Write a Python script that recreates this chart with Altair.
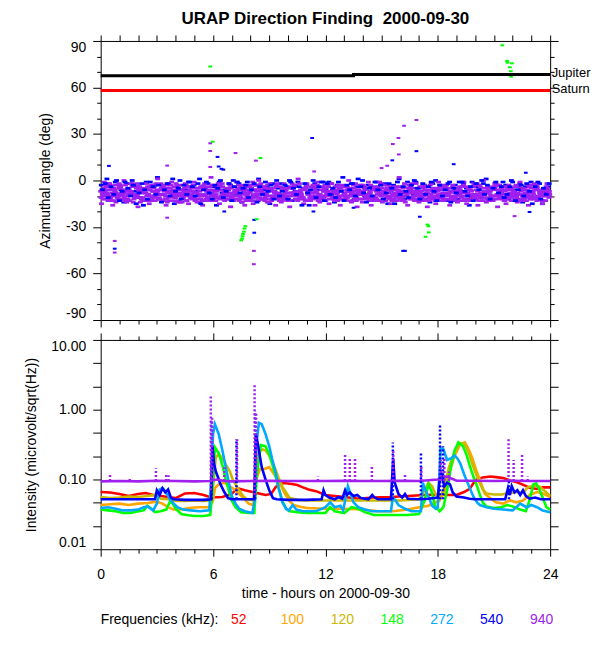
import altair as alt
import numpy as np
import pandas as pd

TITLE = "URAP Direction Finding\u00a0 2000-09-30"
XTITLE = "time - hours on 2000-09-30"
Y1TITLE = "Azimuthal angle (deg)"
Y2TITLE = "Intensity (microvolt/sqrt(Hz))"
LEGEND_TITLE = "Frequencies (kHz):"
FONT = "Liberation Sans"

FREQS = ["52", "100", "120", "148", "272", "540", "940"]
COLORS = ["#FF0000", "#FFA500", "#CDB800", "#00FF00", "#00A8FF", "#0000FF", "#A020F0"]

# ---------------- top panel: planets ----------------
JUP_T = [0, 13.5, 13.5, 24]
JUP_A = [67.5, 67.5, 68.3, 68.3]
SAT_T = [0, 24]
SAT_A = [58.0, 58.0]

# ---------------- top panel: direction-finding band (deg), sampled every BAND_STEP h ----------------
BAND_STEP = 0.15
P_OFFSETS = [0.0, 0.021, 0.043, 0.064, 0.086, 0.107, 0.129]
B_OFFSETS = [0.032, 0.097]
P940_ROWS = [
"""-7 -10 -4 -12 -8 -6 -11 -3 -9 -13 -5 -8 -10 -2 -7 -11
-6 -9 -13 -4 -8 -12 -5 -10 -7 -3 -11 -9 -6 -14 -8 -4
-10 -7 -12 -5 -9 -2 -11 -8 -6 -13 -4 -10 -7 -9 -3 -12
-8 -5 -11 -7 -10 -4 -13 -6 -9 -2 -8 -12 -5 -10 -7 -11
-4 -9 -6 -13 -8 -3 -10 -7 -12 -5 -9 -11 -6 -8 -14 -4
-10 -7 -2 -11 -9 -5 -12 -8 -6 -10 -3 -13 -7 -9 -4 -11
-8 -6 -12 -5 -10 -7 -3 -11 -9 -13 -6 -8 -4 -10 -12 -7
-5 -9 -11 -3 -8 -13 -6 -10 -7 -4 -12 -9 -5 -11 -8 -14
-6 -10 -4 -12 -7 -9 -2 -11 -8 -5 -13 -10 -6 -9 -3 -12
-7 -11 -5 -8 -10 -4 -13 -6 -9 -12 -7 -3 -11 -8 -10 -5""",
"""-11 -5 -9 -2 -13 -7 -10 -4 -8 -12 -6 -3 -11 -9 -14 -6
-8 -12 -3 -10 -6 -9 -13 -5 -11 -7 -4 -10 -8 -12 -2 -9
-5 -11 -8 -14 -4 -10 -7 -12 -3 -9 -6 -11 -13 -5 -8 -10
-12 -3 -9 -6 -11 -8 -1 -10 -13 -7 -4 -9 -6 -11 -8 -12
-9 -12 -5 -10 -2 -8 -13 -6 -11 -4 -7 -10 -12 -3 -9 -6
-13 -4 -8 -11 -6 -10 -3 -12 -7 -9 -5 -11 -8 -14 -6 -10
-3 -10 -7 -13 -5 -9 -11 -4 -12 -6 -8 -10 -2 -9 -7 -11
-12 -7 -4 -10 -8 -11 -5 -13 -9 -6 -10 -3 -8 -12 -6 -9
-10 -3 -12 -6 -9 -11 -7 -4 -13 -8 -5 -10 -12 -6 -8 -11
-4 -9 -13 -7 -11 -6 -10 -8 -3 -12 -9 -5 -7 -13 -10 -6""",
"""-15 -1 -8 -6 -16 -3 -12 -9 0 -14 -7 -2 -10 -17 -5 -13
-2 -15 -7 -11 1 -9 -4 -16 -8 -1 -13 -6 -14 -3 -10 -15
-9 -1 -14 -7 -16 -4 -11 2 -13 -6 -15 -2 -10 -8 -17 -4
-1 -13 -6 -16 -9 -3 -15 -7 0 -12 -5 -14 -2 -11 -16 -8
-14 -2 -10 -17 -5 -12 1 -8 -15 -3 -13 -6 -16 -1 -11 -7
-5 -15 -2 -13 -8 -16 -4 -10 0 -14 -7 -17 -3 -12 -9 -1
-16 -6 -12 -1 -14 -9 -3 -15 -5 -11 2 -13 -8 -16 -4 -10
-2 -14 -7 -12 -17 -3 -10 -15 -1 -9 -13 -6 -16 -4 -11 -8
-13 -1 -15 -6 -10 -3 -16 -8 0 -14 -5 -12 -2 -17 -9 -4
-15 -3 -11 -7 -14 -1 -12 -9 -16 -5 -2 -13 -8 -15 -6 -10""",
"""-6 -12 -9 -3 -10 -14 -5 -8 -11 -7 -13 -4 -9 -6 -12 -8
-10 -4 -11 -13 -7 -2 -9 -12 -5 -10 -8 -14 -6 -11 -3 -7
-12 -8 -5 -10 -13 -9 -6 -3 -11 -7 -12 -4 -8 -10 -5 -13
-7 -10 -14 -4 -6 -12 -9 -11 -5 -8 -13 -3 -10 -7 -4 -9
-11 -6 -8 -13 -10 -4 -7 -9 -12 -2 -11 -8 -5 -13 -10 -7
-9 -12 -6 -4 -13 -7 -10 -11 -5 -8 -12 -6 -9 -3 -11 -13
-10 -5 -9 -8 -12 -13 -6 -7 -10 -4 -9 -11 -14 -7 -5 -12
-8 -11 -13 -6 -4 -9 -12 -7 -10 -11 -5 -8 -13 -3 -10 -7
-11 -7 -8 -13 -4 -12 -10 -5 -9 -7 -11 -13 -4 -12 -7 -9
-12 -6 -10 -4 -8 -13 -5 -11 -7 -10 -12 -4 -9 -6 -13 -8""",
"""-9 -7 -13 -11 -5 -8 -2 -12 -6 -10 -9 -14 -4 -11 -8 -5
-13 -6 -10 -8 -12 -5 -7 -3 -13 -9 -11 -5 -10 -7 -13 -4
-7 -13 -10 -4 -6 -12 -8 -10 -7 -11 -3 -9 -12 -6 -11 -8
-10 -6 -4 -12 -8 -11 -6 -13 -3 -9 -11 -7 -12 -5 -9 -13
-6 -11 -13 -4 -9 -7 -12 -10 -5 -8 -12 -3 -10 -9 -6 -11
-8 -10 -11 -7 -3 -12 -9 -6 -13 -5 -10 -8 -12 -7 -5 -9
-11 -13 -4 -9 -7 -6 -10 -12 -8 -13 -4 -7 -10 -5 -12 -8
-9 -4 -10 -13 -6 -12 -8 -5 -11 -3 -9 -12 -7 -10 -13 -5
-7 -12 -9 -4 -11 -6 -13 -10 -7 -12 -9 -4 -10 -8 -5 -13
-10 -8 -6 -12 -9 -5 -11 -13 -4 -8 -6 -10 -12 -9 -4 -11""",
"""-8 -3 -11 -6 -13 -9 -4 -10 -7 -12 -2 -9 -5 -11 -8 -13
-4 -10 -7 -2 -12 -6 -9 -14 -5 -8 -11 -3 -10 -7 -13 -6
-11 -5 -9 -12 -3 -7 -13 -8 -10 -4 -6 -12 -9 -2 -11 -7
-6 -12 -3 -9 -13 -5 -10 -7 -11 -4 -8 -14 -6 -10 -3 -9
-13 -7 -10 -5 -8 -12 -2 -11 -6 -9 -13 -4 -7 -12 -10 -5
-3 -9 -12 -8 -11 -6 -13 -4 -10 -7 -2 -12 -9 -5 -11 -8
-12 -4 -7 -10 -3 -11 -8 -13 -6 -9 -12 -5 -10 -3 -8 -13
-7 -10 -5 -12 -9 -2 -11 -6 -13 -8 -4 -10 -7 -12 -5 -9
-4 -13 -8 -6 -10 -12 -3 -9 -11 -5 -7 -13 -2 -10 -8 -6
-11 -5 -9 -13 -4 -7 -12 -8 -10 -3 -11 -6 -9 -13 -5 -7""",
"""-12 -6 -2 -10 -8 -11 -5 -13 -3 -9 -7 -12 -10 -4 -13 -8
-9 -13 -5 -8 -11 -3 -12 -7 -10 -6 -2 -13 -9 -5 -8 -11
-3 -8 -12 -10 -6 -13 -4 -9 -11 -2 -10 -7 -5 -12 -9 -6
-10 -4 -8 -13 -7 -11 -3 -9 -6 -12 -10 -5 -13 -8 -2 -11
-5 -10 -12 -8 -3 -9 -11 -6 -13 -7 -4 -10 -8 -11 -12 -3
-9 -2 -7 -12 -10 -4 -8 -11 -5 -13 -9 -6 -3 -10 -12 -7
-6 -11 -13 -2 -9 -5 -12 -10 -4 -7 -11 -13 -8 -6 -2 -10
-13 -8 -9 -4 -11 -7 -5 -12 -3 -10 -6 -9 -11 -13 -7 -4
-8 -12 -5 -11 -2 -9 -6 -13 -7 -4 -12 -10 -3 -11 -6 -13
-5 -10 -7 -3 -12 -9 -13 -6 -11 -8 -4 -12 -10 -7 -2 -9""",
]
B540_ROWS = [
"""-3 -8 1 -12 -5 -1 -10 -6 -14 -2 -9 0 -7 -4 -11 -16
-1 -6 -13 -3 2 -9 -5 -12 -2 -8 -15 -4 0 -10 -6 -1
-11 -3 -7 1 -13 -5 -2 -9 -4 -16 -1 -8 -6 -12 -3 0
-9 -2 -14 -5 -1 -7 -10 -3 1 -12 -6 -4 -15 -2 -8 -5
-2 -10 -4 0 -13 -7 -1 -11 -5 -3 -16 -8 -2 -6 -12 -1
-6 -1 -9 -14 -3 -5 2 -10 -7 -2 -12 -4 -8 0 -11 -3
-4 -13 -1 -6 -9 -2 -15 -5 -3 -10 1 -7 -12 -1 -6 -9
-1 -5 -11 -3 -8 -14 -2 0 -10 -6 -4 -13 -1 -7 -3 -12
-8 -2 -5 -16 -1 -9 -4 -11 -2 1 -7 -13 -5 -3 -10 -1
-3 -12 0 -6 -9 -2 -14 -4 -7 -1 -11 -5 -2 -15 -8 -4""",
"""-6 -2 -11 -4 -9 0 -13 -7 -1 -5 -10 -3 -15 -8 -2 -6
-12 -1 -4 -9 -3 -14 -6 -2 -10 1 -7 -5 -12 -3 -9 -1
-4 -10 -2 -15 -6 -1 -8 -12 -3 -5 0 -11 -7 -2 -13 -4
-1 -8 -5 -3 -11 -6 -2 -14 -4 -9 -1 -7 -3 -12 0 -10
-7 -3 -12 -1 -5 -9 -4 -16 -2 -8 -6 0 -11 -4 -1 -13
-2 -9 -5 -11 -1 -7 -13 -3 -6 -2 -10 1 -4 -8 -14 -5
-10 -1 -6 -3 -12 -8 -2 -5 -15 -1 -9 -4 -7 -11 -3 0
-5 -12 -2 -9 -4 -1 -7 -13 -3 -10 -6 -2 -14 -5 -8 -1
-1 -7 -10 -4 -13 -2 -6 0 -9 -3 -12 -5 -1 -8 -4 -11
-9 -4 -1 -13 -6 -3 -10 -2 -7 -15 -4 -1 -12 -5 -9 -2""",
]

# outliers (hour, deg)
P_OUT_T = [0.75, 0.75, 3.55, 3.55, 5.85, 5.85, 5.85, 7.2, 8.18, 8.18, 8.29, 11.4, 15.6, 15.9, 16.2, 16.86, 15.92, 15.3, 15.0, 22.1, 6.9]
P_OUT_A = [-39, -46.5, 9.6, -24, 24, 19, 8.7, 17.7, -45.4, -54, 12.8, 5.8, 23.5, 27.4, 35.3, 39, 16.8, 9.5, 8, -23, -17]
B_OUT_T = [0.75, 0.44, 6.24, 6.3, 6.55, 6.6, 8.2, 8.2, 11.29, 11.36, 13.5, 15.57, 16.86, 16.15, 16.25, 17.04, 18.85, 22.7, 22.9, 6.45]
B_OUT_A = [-44, 9.4, 15.2, 9, 7, -20, -33.7, -25.4, 27.4, -20, -17.6, 13, 18.9, -45.4, -45.4, -23.4, 10.5, 5, -20.3, 7.5]
G_OUT_T = [5.85, 5.98, 7.72, 7.68, 7.65, 7.6, 7.58, 7.55, 7.5, 8.33, 8.53, 17.45, 17.5, 17.52, 17.35, 21.45, 21.7, 21.72, 21.96, 21.85, 21.9, 21.92]
G_OUT_A = [73.5, 25, -29.5, -31, -33, -34.5, -36, -37.5, -38.6, -25, 14.5, -28.5, -29.5, -33.5, -36.3, 87.2, 77.1, 76, 75.6, 73, 70.5, 67]

# ---------------- bottom panel: intensities ----------------
T52 = [0, 0.5, 1.0, 1.5, 2.0, 2.4, 2.8, 3.2, 3.6, 4.0, 4.5, 5.0, 5.5, 5.9, 6.5, 7.0, 7.3, 7.7, 8.1, 8.8, 9.1, 9.35, 9.6, 9.9, 10.2, 10.5, 10.8, 11.1, 11.5, 12.0, 12.5, 13.0, 13.8, 14.5, 15.5, 16.4, 17.3, 18.0, 18.6, 19.0, 19.4, 19.7, 19.9, 20.1, 20.4, 20.8, 21.1, 21.5, 21.9, 22.2, 22.6, 22.9, 23.3, 23.6, 24.0]
V52 = [0.066, 0.065, 0.062, 0.058, 0.062, 0.064, 0.06, 0.058, 0.056, 0.054, 0.063, 0.064, 0.06, 0.055, 0.056, 0.062, 0.075, 0.07, 0.066, 0.06, 0.062, 0.078, 0.088, 0.088, 0.086, 0.083, 0.077, 0.072, 0.068, 0.06, 0.058, 0.056, 0.053, 0.055, 0.056, 0.058, 0.06, 0.061, 0.06, 0.06, 0.066, 0.073, 0.088, 0.1, 0.107, 0.11, 0.108, 0.105, 0.096, 0.092, 0.083, 0.076, 0.073, 0.077, 0.077]

T100 = [0, 0.5, 1.0, 1.5, 2.0, 2.5, 3.0, 3.3, 3.6, 3.9, 4.3, 4.7, 5.2, 5.8, 6.0, 6.1, 6.3, 6.6, 6.9, 7.2, 7.6, 7.9, 8.15, 8.3, 8.5, 8.7, 9.0, 9.3, 9.55, 9.8, 10.05, 10.3, 10.6, 11.0, 12.0, 13.0, 14.0, 14.8, 15.6, 16.4, 17.0, 17.5, 17.8, 18.1, 18.4, 18.6, 18.9, 19.2, 19.45, 19.65, 19.85, 20.05, 20.25, 20.5, 20.8, 21.1, 21.5, 21.85, 22.2, 22.55, 22.9, 23.3, 23.6, 24.0]
V100 = [0.043, 0.044, 0.045, 0.043, 0.045, 0.046, 0.048, 0.045, 0.04, 0.037, 0.037, 0.039, 0.04, 0.04, 0.05, 0.075, 0.085, 0.09, 0.08, 0.07, 0.055, 0.045, 0.043, 0.1, 0.14, 0.14, 0.15, 0.115, 0.09, 0.065, 0.05, 0.043, 0.041, 0.039, 0.038, 0.038, 0.037, 0.035, 0.035, 0.037, 0.04, 0.042, 0.046, 0.05, 0.07, 0.12, 0.22, 0.32, 0.34, 0.27, 0.2, 0.136, 0.098, 0.063, 0.054, 0.047, 0.045, 0.05, 0.047, 0.05, 0.06, 0.066, 0.063, 0.056]

T120 = [0, 0.5, 1.0, 1.5, 2.0, 2.5, 2.9, 3.2, 3.6, 4.0, 4.5, 5.0, 5.5, 5.9, 6.0, 6.15, 6.3, 6.5, 6.7, 6.9, 7.05, 7.2, 7.4, 7.6, 7.8, 8.15, 8.3, 8.45, 8.65, 8.8, 9.0, 9.15, 9.35, 9.5, 9.7, 9.9, 10.1, 10.5, 11.0, 12.0, 13.0, 14.0, 15.0, 16.0, 17.0, 17.3, 17.5, 17.7, 17.9, 18.1, 18.3, 18.6, 18.9, 19.2, 19.4, 19.55, 19.7, 19.9, 20.1, 20.25, 20.4, 20.6, 21.0, 21.4, 21.85, 22.2, 22.55, 22.8, 23.1, 23.45, 23.8, 24.0]
V120 = [0.056, 0.054, 0.055, 0.057, 0.056, 0.058, 0.06, 0.053, 0.052, 0.049, 0.049, 0.05, 0.049, 0.05, 0.08, 0.21, 0.23, 0.2, 0.16, 0.13, 0.1, 0.085, 0.07, 0.058, 0.052, 0.05, 0.15, 0.25, 0.27, 0.26, 0.22, 0.18, 0.136, 0.105, 0.079, 0.065, 0.054, 0.051, 0.05, 0.05, 0.05, 0.05, 0.05, 0.05, 0.052, 0.07, 0.09, 0.08, 0.06, 0.055, 0.07, 0.15, 0.25, 0.33, 0.33, 0.28, 0.22, 0.15, 0.11, 0.088, 0.072, 0.063, 0.061, 0.061, 0.064, 0.066, 0.064, 0.077, 0.082, 0.079, 0.065, 0.058]

T148 = [0, 0.4, 0.8, 1.2, 1.6, 2.0, 2.3, 2.5, 2.7, 2.9, 3.2, 3.5, 3.7, 3.85, 4.0, 4.3, 4.6, 5.0, 5.5, 5.85, 5.95, 6.1, 6.3, 6.5, 6.7, 6.85, 7.0, 7.2, 7.5, 7.9, 8.2, 8.35, 8.55, 8.8, 9.0, 9.15, 9.35, 9.5, 9.7, 9.9, 10.1, 10.5, 11.0, 11.5, 12.0, 12.25, 12.5, 13.0, 13.4, 13.75, 14.1, 14.6, 15.5, 16.4, 17.0, 17.3, 17.5, 17.65, 17.85, 18.1, 18.3, 18.5, 18.7, 18.9, 19.1, 19.35, 19.55, 19.7, 19.9, 20.1, 20.25, 20.4, 20.6, 21.0, 21.4, 21.7, 22.0, 22.4, 22.7, 22.9, 23.1, 23.25, 23.45, 23.6, 23.8, 24.0]
V148 = [0.037, 0.036, 0.035, 0.033, 0.033, 0.035, 0.036, 0.042, 0.038, 0.034, 0.035, 0.037, 0.048, 0.045, 0.038, 0.032, 0.031, 0.03, 0.03, 0.031, 0.06, 0.29, 0.24, 0.16, 0.095, 0.068, 0.05, 0.04, 0.034, 0.033, 0.033, 0.12, 0.31, 0.3, 0.23, 0.17, 0.11, 0.075, 0.05, 0.038, 0.035, 0.034, 0.033, 0.033, 0.033, 0.04, 0.035, 0.033, 0.04, 0.038, 0.034, 0.031, 0.031, 0.031, 0.032, 0.05, 0.085, 0.07, 0.042, 0.035, 0.04, 0.07, 0.15, 0.26, 0.34, 0.3, 0.22, 0.16, 0.11, 0.08, 0.06, 0.047, 0.041, 0.039, 0.04, 0.043, 0.041, 0.037, 0.035, 0.05, 0.085, 0.088, 0.07, 0.055, 0.04, 0.037]

T272 = [0, 0.4, 0.8, 1.2, 1.6, 2.0, 2.3, 2.5, 2.8, 3.0, 3.15, 3.3, 3.5, 3.7, 3.9, 4.1, 4.4, 4.8, 5.3, 5.8, 5.9, 6.0, 6.1, 6.3, 6.5, 6.7, 6.85, 7.0, 7.2, 7.4, 7.7, 8.1, 8.22, 8.3, 8.45, 8.6, 8.8, 9.0, 9.15, 9.35, 9.5, 9.7, 9.9, 10.05, 10.25, 10.45, 10.8, 11.5, 12.0, 12.25, 12.5, 12.8, 12.95, 13.2, 13.5, 13.75, 14.1, 14.5, 15.0, 15.5, 15.6, 15.75, 15.9, 16.25, 16.6, 17.1, 17.2, 17.3, 17.5, 17.7, 17.9, 18.0, 18.15, 18.3, 18.5, 18.7, 18.9, 19.05, 19.2, 19.4, 19.55, 19.7, 19.9, 20.1, 20.25, 20.6, 21.0, 21.5, 22.0, 22.4, 22.6, 22.75, 23.0, 23.3, 23.6, 24.0]
V272 = [0.039, 0.04, 0.038, 0.036, 0.036, 0.037, 0.04, 0.041, 0.036, 0.045, 0.072, 0.075, 0.065, 0.052, 0.045, 0.04, 0.037, 0.036, 0.035, 0.036, 0.1, 0.45, 0.62, 0.45, 0.26, 0.14, 0.088, 0.058, 0.045, 0.038, 0.035, 0.033, 0.05, 0.3, 0.65, 0.62, 0.45, 0.3, 0.2, 0.124, 0.076, 0.047, 0.038, 0.036, 0.043, 0.037, 0.035, 0.035, 0.04, 0.047, 0.04, 0.042, 0.036, 0.08, 0.047, 0.04, 0.037, 0.035, 0.035, 0.035, 0.055, 0.05, 0.043, 0.038, 0.035, 0.035, 0.09, 0.075, 0.057, 0.042, 0.038, 0.04, 0.28, 0.27, 0.19, 0.2, 0.22, 0.2, 0.17, 0.12, 0.095, 0.076, 0.057, 0.047, 0.043, 0.04, 0.038, 0.037, 0.036, 0.045, 0.042, 0.04, 0.043, 0.04, 0.036, 0.034]

T540 = [0, 1.0, 2.0, 2.9, 3.0, 3.15, 3.3, 3.45, 3.6, 3.75, 3.9, 4.5, 5.5, 5.9, 5.97, 6.05, 6.15, 6.25, 6.4, 6.6, 6.8, 7.0, 7.5, 8.2, 8.28, 8.36, 8.45, 8.6, 8.8, 9.0, 9.2, 9.4, 10.0, 11.0, 11.8, 11.9, 12.0, 12.2, 12.5, 12.7, 12.9, 13.05, 13.15, 13.3, 13.5, 13.7, 13.9, 14.3, 14.5, 14.6, 14.8, 15.5, 15.62, 15.7, 15.9, 16.1, 16.25, 16.4, 17.0, 17.5, 18.0, 18.1, 18.2, 18.35, 18.5, 18.65, 18.8, 19.0, 19.4, 19.7, 20.0, 21.0, 21.6, 21.75, 21.85, 21.95, 22.1, 22.25, 22.4, 22.55, 22.7, 22.9, 23.2, 23.5, 24.0]
V540 = [0.052, 0.052, 0.052, 0.052, 0.07, 0.06, 0.075, 0.065, 0.072, 0.055, 0.052, 0.051, 0.051, 0.052, 0.3, 0.17, 0.13, 0.11, 0.085, 0.066, 0.054, 0.052, 0.052, 0.052, 0.45, 0.36, 0.26, 0.15, 0.1, 0.07, 0.054, 0.052, 0.051, 0.051, 0.052, 0.07, 0.06, 0.055, 0.052, 0.056, 0.053, 0.07, 0.06, 0.065, 0.058, 0.06, 0.054, 0.052, 0.06, 0.056, 0.052, 0.052, 0.2, 0.09, 0.062, 0.055, 0.062, 0.053, 0.052, 0.053, 0.055, 0.1, 0.12, 0.08, 0.09, 0.085, 0.065, 0.057, 0.055, 0.053, 0.052, 0.052, 0.052, 0.075, 0.06, 0.08, 0.065, 0.07, 0.06, 0.07, 0.058, 0.053, 0.055, 0.052, 0.052]

T940 = [0, 1, 2, 3, 4, 5, 5.8, 6.2, 6.6, 7.0, 8.0, 9, 10, 11, 12, 13, 14, 15, 16, 17, 18, 18.5, 19, 20, 21, 22, 23, 24]
V940 = [0.094, 0.095, 0.094, 0.096, 0.095, 0.094, 0.095, 0.1, 0.095, 0.094, 0.095, 0.096, 0.095, 0.095, 0.095, 0.096, 0.095, 0.095, 0.096, 0.095, 0.1, 0.11, 0.096, 0.096, 0.095, 0.096, 0.095, 0.095]

# bursts drawn as dotted streaks: hour, low, high
SPIKE940_T = [0.5, 1.55, 2.95, 3.5, 3.62, 5.88, 5.95, 6.6, 7.28, 8.22, 8.3, 11.6, 13.05, 13.3, 13.58, 14.48, 15.62, 16.25, 17.12, 18.15, 18.35, 18.6, 21.78, 22.05, 22.5, 22.8]
SPIKE940_LO = [0.095, 0.095, 0.095, 0.095, 0.095, 0.07, 0.1, 0.095, 0.095, 0.06, 0.1, 0.095, 0.095, 0.095, 0.095, 0.095, 0.095, 0.095, 0.095, 0.095, 0.095, 0.095, 0.095, 0.095, 0.095, 0.095]
SPIKE940_HI = [0.12, 0.105, 0.145, 0.122, 0.115, 1.6, 0.8, 0.15, 0.38, 2.4, 0.9, 0.11, 0.23, 0.2, 0.21, 0.16, 0.26, 0.12, 0.16, 0.19, 0.2, 0.13, 0.38, 0.19, 0.23, 0.11]
SPIKE540_T = [5.92, 7.25, 8.25, 15.6, 17.1, 18.12, 18.28, 21.8]
SPIKE540_LO = [0.052, 0.052, 0.052, 0.052, 0.052, 0.052, 0.052, 0.052]
SPIKE540_HI = [0.7, 0.38, 0.95, 0.34, 0.24, 0.6, 0.3, 0.1]

SERIES = [(T52, V52), (T100, V100), (T120, V120), (T148, V148), (T272, V272), (T540, V540), (T940, V940)]

# ---------------- helpers ----------------
def parse(s):
    return [float(x) for x in s.split()]

def cond(test, a, b):
    return {"condition": {"test": test, "value": a}, "value": b}

HOURS = list(range(0, 25))
XS = alt.Scale(domain=[0, 24], nice=False, zero=False)
YS1 = alt.Scale(domain=[-90, 90], nice=False, zero=False)
YS2 = alt.Scale(type="log", domain=[0.01, 10], nice=False)
LOG_TICKS = [float("%.6g" % (10 ** (k / 3.0))) for k in range(-6, 4)]

common = dict(domain=False, grid=False, tickColor="black", tickWidth=1,
              labelFont=FONT, labelFontSize=14, labelColor="black",
              titleFont=FONT, titleFontSize=14, titleFontWeight="normal", titleColor="black",
              labelOverlap=False, labelBound=False)

XTICK = cond("datum.value % 6 === 0", 7, 4)
ax_x1_bottom = alt.Axis(orient="bottom", values=HOURS, labels=False, title=None, tickSize=XTICK, **common)
ax_x1_top = alt.Axis(orient="top", values=HOURS, labels=False, title=None, tickSize=6, **common)
ax_x2_top = alt.Axis(orient="top", values=HOURS, labels=False, title=None, tickSize=XTICK, **common)
ax_x2_bottom = alt.Axis(orient="bottom", values=HOURS, title=XTITLE, tickSize=XTICK,
                        labelExpr="datum.value % 6 === 0 ? '' + datum.value : ''",
                        labelFlush=False, labelPadding=11,
                        titleX=225.5, titleY=44.5, titleAlign="center", titleBaseline="middle",
                        **common)

YTICK1 = cond("datum.value % 30 === 0", 8, 4)
ax_y1_left = alt.Axis(orient="left", values=list(range(-90, 91, 10)), tickSize=YTICK1,
                      labelExpr="datum.value % 30 === 0 ? '' + datum.value : ''",
                      labelFlush=True, labelPadding=7, title=Y1TITLE,
                      titleX=-55, titleY=140, titleAngle=270, titleAlign="center", titleBaseline="middle",
                      **common)
ax_y1_right = alt.Axis(orient="right", values=list(range(-90, 91, 10)), tickSize=YTICK1,
                       labels=False, title=None, **common)
ax_y2_left = alt.Axis(orient="left", values=LOG_TICKS, tickSize=8,
                      labelExpr="abs(log(datum.value)/LN10 - round(log(datum.value)/LN10)) < 0.01 ? format(datum.value, '.2f') : ''",
                      labelFlush=True, labelPadding=7, title=Y2TITLE,
                      titleX=-69, titleY=105, titleAngle=270, titleAlign="center", titleBaseline="middle",
                      **common)
ax_y2_right = alt.Axis(orient="right", values=LOG_TICKS, tickSize=8, labels=False, title=None, **common)

X1 = alt.X("t:Q", scale=XS, axis=ax_x1_bottom)
Y1 = alt.Y("a:Q", scale=YS1, axis=ax_y1_left)
X2 = alt.X("t:Q", scale=XS, axis=ax_x2_bottom)
Y2 = alt.Y("v:Q", scale=YS2, axis=ax_y2_left)

RECT = "M-1,-0.55H1V0.55H-1Z"
PURPLE, BLUE, GREEN = COLORS[6], COLORS[5], COLORS[3]

# ---------------- top panel ----------------
def band(rows, offs):
    return pd.concat([pd.DataFrame({"t": np.arange(len(parse(r))) * BAND_STEP + off, "a": parse(r)})
                      for r, off in zip(rows, offs)], ignore_index=True)

band_p = band(P940_ROWS, P_OFFSETS)
band_b1 = band(B540_ROWS[:1], B_OFFSETS[:1])
band_b2 = band(B540_ROWS[1:], B_OFFSETS[1:])

def dots(df, color, size=24):
    return alt.Chart(df).mark_point(shape=RECT, filled=True, size=size, opacity=1, color=color).encode(x=X1, y=Y1)

top_layers = [
    dots(band_b1, BLUE),
    dots(band_p, PURPLE),
    dots(band_b2, BLUE),
    dots(pd.DataFrame({"t": P_OUT_T, "a": P_OUT_A}), PURPLE, 14),
    dots(pd.DataFrame({"t": B_OUT_T, "a": B_OUT_A}), BLUE, 14),
    dots(pd.DataFrame({"t": G_OUT_T, "a": G_OUT_A}), GREEN, 14),
    alt.Chart(pd.DataFrame({"t": JUP_T, "a": JUP_A})).mark_line(color="black", strokeWidth=3).encode(x=X1, y=Y1),
    alt.Chart(pd.DataFrame({"t": SAT_T, "a": SAT_A})).mark_line(color="red", strokeWidth=3).encode(x=X1, y=Y1),
    alt.Chart(pd.DataFrame({"t": [24, 24], "a": [JUP_A[-1], SAT_A[-1]], "name": ["Jupiter", "Saturn"]}))
      .mark_text(align="left", baseline="middle", dx=1.5, dy=-2, font=FONT, fontSize=13, color="black")
      .encode(x=X1, y=Y1, text="name:N"),
]
top_axes = alt.Chart(pd.DataFrame({"t": SAT_T, "a": SAT_A})).mark_line(opacity=0).encode(
    x=alt.X("t:Q", scale=XS, axis=ax_x1_top), y=alt.Y("a:Q", scale=YS1, axis=ax_y1_right))

top = alt.layer(alt.layer(*top_layers), top_axes).resolve_axis(x="independent", y="independent").properties(
    width=451, height=280,
    title=alt.TitleParams(TITLE, font=FONT, fontSize=17, fontWeight="bold", color="black", anchor="middle", offset=6.8))

# ---------------- bottom panel ----------------
bottom_layers = []
for (tt, vv), c in zip(SERIES, COLORS):
    bottom_layers.append(alt.Chart(pd.DataFrame({"t": tt, "v": vv})).mark_line(color=c, strokeWidth=2.6).encode(x=X2, y=Y2))
for tt, lo, hi, c in [(SPIKE540_T, SPIKE540_LO, SPIKE540_HI, BLUE), (SPIKE940_T, SPIKE940_LO, SPIKE940_HI, PURPLE)]:
    bottom_layers.append(alt.Chart(pd.DataFrame({"t": tt, "v": lo, "hi": hi})).mark_rule(
        color=c, strokeWidth=2.5, strokeDash=[2, 2]).encode(x=X2, y=Y2, y2="hi:Q"))

legend_df = pd.DataFrame({"lab": [LEGEND_TITLE] + FREQS, "col": ["black"] + COLORS, "i": list(range(-1, 7))})
bottom_layers.append(
    alt.Chart(legend_df).transform_calculate(t="datum.i < 0 ? 0 : 6.96 + datum.i * 2.66")
    .mark_text(align="left", baseline="middle", font=FONT, fontSize=14)
    .encode(x=X2, y=alt.value(281.5), text="lab:N", color=alt.Color("col:N", scale=None)))

bottom_axes = alt.Chart(pd.DataFrame({"t": T940, "v": V940})).mark_line(opacity=0).encode(
    x=alt.X("t:Q", scale=XS, axis=ax_x2_top), y=alt.Y("v:Q", scale=YS2, axis=ax_y2_right))

bottom = alt.layer(alt.layer(*bottom_layers), bottom_axes).resolve_axis(x="independent", y="independent").properties(
    width=451, height=210)

chart = alt.vconcat(top, bottom, spacing=20, bounds="flush").properties(
    padding={"left": 16, "top": 0, "right": 0, "bottom": 4}
).configure(background="white").configure_view(stroke="black", strokeWidth=1)

chart.save("out.html", embed_options={"renderer": "svg", "actions": False})
